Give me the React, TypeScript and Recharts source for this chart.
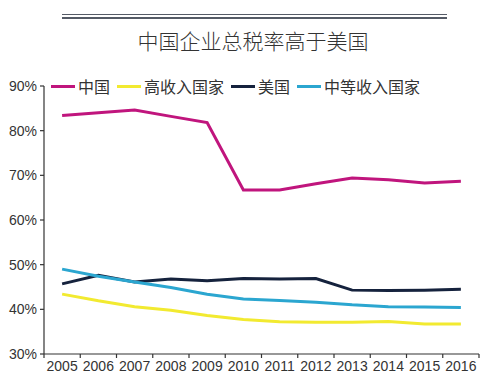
import React from 'react';
import { LineChart, Line, XAxis, YAxis } from 'recharts';

const years = ['2005', '2006', '2007', '2008', '2009', '2010', '2011', '2012', '2013', '2014', '2015', '2016'];
const china = [83.4, 84.0, 84.6, 83.2, 81.8, 66.7, 66.7, 68.1, 69.4, 69.0, 68.3, 68.7];
const highIncome = [43.4, 41.9, 40.6, 39.8, 38.6, 37.7, 37.2, 37.1, 37.1, 37.3, 36.7, 36.7];
const usa = [45.7, 47.6, 46.1, 46.8, 46.4, 46.9, 46.8, 46.9, 44.3, 44.2, 44.3, 44.5];
const middleIncome = [49.0, 47.4, 46.1, 44.9, 43.4, 42.3, 42.0, 41.6, 41.0, 40.6, 40.5, 40.4];
const yTicks = [30, 40, 50, 60, 70, 80, 90];

const title = '中国企业总税率高于美国';
const seriesNames = ['中国', '高收入国家', '美国', '中等收入国家'];
const seriesColors = ['#c0157d', '#f2ea30', '#15223d', '#2ba6d0'];

const data = years.map((y, i) => ({
  year: y,
  china: china[i],
  high: highIncome[i],
  us: usa[i],
  middle: middleIncome[i],
}));

const W = 500;
const H = 385;
const LEFT = 44;
const RIGHT = 21;
const PLOT_W = W - LEFT - RIGHT;
const BW = PLOT_W / years.length;
const FONT = "'Liberation Sans', Arial, 'Noto Sans CJK SC', sans-serif";

const XTick = (props: any) => {
  const { x, y, payload, index } = props;
  const half = BW / 2;
  return (
    <g>
      <line x1={x - half} y1={y} x2={x - half} y2={y + 4} stroke="#333" strokeWidth={1.2} />
      {index === years.length - 1 && (
        <line x1={x + half} y1={y} x2={x + half} y2={y + 4} stroke="#333" strokeWidth={1.2} />
      )}
      <text x={x} y={y + 17} textAnchor="middle" fill="#333" fontSize={14} fontFamily={FONT}>
        {payload.value}
      </text>
    </g>
  );
};

const LegendBox = () => (
  <div
    style={{
      position: 'absolute',
      left: 51,
      top: 77,
      display: 'flex',
      alignItems: 'center',
      fontSize: 16,
      color: '#333',
      zIndex: 2,
    }}
  >
    {seriesNames.map((n, i) => (
      <div key={n} style={{ display: 'flex', alignItems: 'center', marginRight: 7 }}>
        <div style={{ width: 24, height: 3, background: seriesColors[i], marginRight: 3 }} />
        <span style={{ fontFamily: "'Noto Sans CJK SC', sans-serif", lineHeight: '18px' }}>{n}</span>
      </div>
    ))}
  </div>
);

export default function App() {
  return (
    <div style={{ position: 'absolute', left: 0, top: 0, width: W, height: H, background: '#fff', fontFamily: FONT }}>
      <div style={{ position: 'absolute', left: 62, top: 14, width: 385, height: 1.3, background: '#555b66' }} />
      <div style={{ position: 'absolute', left: 62, top: 17.3, width: 385, height: 1.3, background: '#555b66' }} />
      <div
        style={{
          position: 'absolute',
          left: 0,
          top: 26,
          width: 506,
          textAlign: 'center',
          fontSize: 21,
          lineHeight: '28px',
          color: '#333',
          fontFamily: "'Noto Sans CJK SC', sans-serif",
          fontWeight: 300,
        }}
      >
        {title}
      </div>
      <LegendBox />
      <LineChart width={W} height={H} data={data} margin={{ top: 86, right: RIGHT, bottom: 1, left: 0 }}>
        <XAxis
          dataKey="year"
          padding={{ left: BW / 2, right: BW / 2 }}
          tickLine={false}
          tickSize={0}
          tickMargin={0}
          height={30}
          interval={0}
          stroke="#333"
          strokeWidth={1.2}
          tick={<XTick />}
        />
        <YAxis
          type="number"
          domain={[30, 90]}
          ticks={yTicks}
          width={LEFT}
          tickSize={4}
          tickMargin={3}
          stroke="#333"
          strokeWidth={1.2}
          tick={{ fill: '#333', fontSize: 14 }}
          tickFormatter={(v: number) => `${v}%`}
          interval={0}
        />
        <Line dataKey="china" name={seriesNames[0]} stroke={seriesColors[0]} strokeWidth={3} dot={false} isAnimationActive={false} />
        <Line dataKey="high" name={seriesNames[1]} stroke={seriesColors[1]} strokeWidth={3} dot={false} isAnimationActive={false} />
        <Line dataKey="us" name={seriesNames[2]} stroke={seriesColors[2]} strokeWidth={3} dot={false} isAnimationActive={false} />
        <Line dataKey="middle" name={seriesNames[3]} stroke={seriesColors[3]} strokeWidth={3} dot={false} isAnimationActive={false} />
      </LineChart>
    </div>
  );
}
